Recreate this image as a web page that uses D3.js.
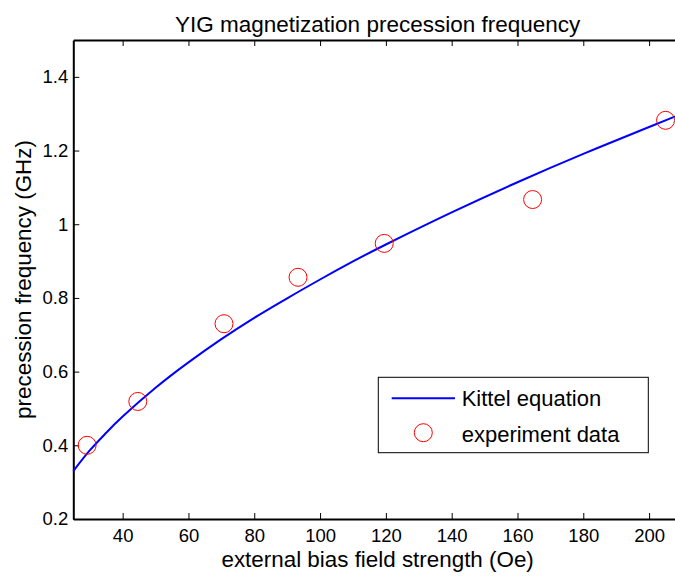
<!DOCTYPE html>
<html>
<head>
<meta charset="utf-8">
<script src="https://cdn.jsdelivr.net/npm/d3@7"></script>
<style>
  body { margin: 0; background: #fff; }
  svg { display: block; font-family: "Liberation Sans", Arial, sans-serif; }
</style>
</head>
<body>
<div id="viz"></div>
<script>
// Kittel curve
const kittelH = [25, 30, 35, 40, 50, 60, 70, 80, 90, 100, 110, 120, 140, 160, 180, 200, 210];
const kittelF = [0.330, 0.386, 0.434, 0.478, 0.556, 0.625, 0.688, 0.746, 0.799, 0.850, 0.899, 0.945, 1.032, 1.114, 1.191, 1.264, 1.300];

// measured points
const expH = [29.2, 44.6, 70.8, 93.3, 119.5, 164.6, 205.0];
const expF = [0.400, 0.519, 0.730, 0.856, 0.948, 1.067, 1.282];

const xTicks = [40, 60, 80, 100, 120, 140, 160, 180, 200];
const yTicks = [0.2, 0.4, 0.6, 0.8, 1, 1.2, 1.4];

const W = 675, H = 576;
const margin = { top: 40, left: 73.3, bottom: 57, right: -7 };
const width = W - margin.left - margin.right;
const height = H - margin.top - margin.bottom;

const svg = d3.select('#viz').append('svg')
    .attr('width', W)
    .attr('height', H);

const g = svg.append('g')
    .attr('transform', 'translate(' + margin.left + ',' + margin.top + ')');

const x = d3.scaleLinear().domain([25, 210]).range([0, width]);
const y = d3.scaleLinear().domain([0.2, 1.5]).range([height, 0]);

const xAxis = d3.axisBottom(x).tickValues(xTicks).tickSizeInner(-6).tickSizeOuter(0).tickPadding(10);
const xTop = d3.axisTop(x).tickValues(xTicks).tickSizeInner(-6).tickSizeOuter(0).tickFormat('');
const yAxis = d3.axisLeft(y).tickValues(yTicks).tickSizeInner(-6).tickSizeOuter(0).tickPadding(5)
    .tickFormat(d => d3.format('')(+d.toFixed(1)));

function styleAxis(sel) {
    sel.select('.domain').attr('stroke', '#000').attr('stroke-width', 2);
    sel.selectAll('.tick line').attr('stroke', '#000').attr('stroke-width', 1);
    sel.selectAll('.tick text').attr('fill', '#000').style('font-size', '18.5px')
        .style('font-family', '"Liberation Sans", Arial, sans-serif');
}

g.append('g').attr('transform', 'translate(0,' + height + ')').call(xAxis).call(styleAxis);
g.append('g').call(xTop).call(styleAxis);
g.append('g').call(yAxis).call(styleAxis);

// curve
const line = d3.line()
    .x((d, i) => x(kittelH[i]))
    .y(d => y(d))
    .curve(d3.curveNatural);

g.append('path')
    .datum(kittelF)
    .attr('fill', 'none')
    .attr('stroke', '#0000ff')
    .attr('stroke-width', 2)
    .attr('d', line);

g.selectAll('circle.pt').data(expF)
    .enter().append('circle')
    .attr('class', 'pt')
    .attr('cx', (d, i) => x(expH[i]))
    .attr('cy', d => y(d))
    .attr('r', 9)
    .attr('fill', 'none')
    .attr('stroke', '#ff0000')
    .attr('stroke-width', 1);

// title and labels
svg.append('text')
    .attr('x', margin.left + width / 2)
    .attr('y', 32)
    .attr('text-anchor', 'middle')
    .style('font-size', '22.5px')
    .text('YIG magnetization precession frequency');

svg.append('text')
    .attr('x', margin.left + width / 2)
    .attr('y', 567)
    .attr('text-anchor', 'middle')
    .style('font-size', '22.4px')
    .text('external bias field strength (Oe)');

svg.append('text')
    .attr('transform', 'translate(31,' + (margin.top + height / 2) + ') rotate(-90)')
    .attr('text-anchor', 'middle')
    .style('font-size', '22.4px')
    .text('precession frequency (GHz)');

// legend
const leg = svg.append('g');
leg.append('rect')
    .attr('x', 378.3).attr('y', 377.3)
    .attr('width', 270).attr('height', 75.4)
    .attr('fill', '#fff').attr('stroke', '#000').attr('stroke-width', 1);
leg.append('line')
    .attr('x1', 391.7).attr('x2', 455).attr('y1', 398.3).attr('y2', 398.3)
    .attr('stroke', '#0000ff').attr('stroke-width', 2);
leg.append('circle')
    .attr('cx', 423.3).attr('cy', 432.7).attr('r', 9)
    .attr('fill', 'none').attr('stroke', '#ff0000').attr('stroke-width', 1);
leg.append('text').attr('x', 461.7).attr('y', 406).style('font-size', '22px').text('Kittel equation');
leg.append('text').attr('x', 461.7).attr('y', 441.5).style('font-size', '22px').text('experiment data');
</script>
</body>
</html>
